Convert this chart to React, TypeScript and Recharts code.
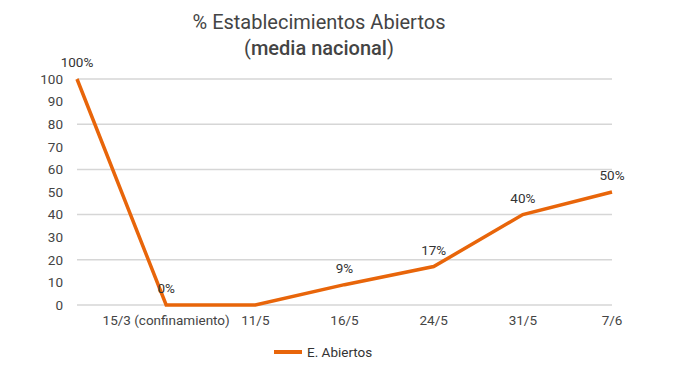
import { CartesianGrid, LabelList, Legend, Line, LineChart, XAxis, YAxis } from "recharts";

const fechas = ["", "15/3 (confinamiento)", "11/5", "16/5", "24/5", "31/5", "7/6"];
const abiertos = [100, 0, 0, 9, 17, 40, 50];
const yTicks = [0, 10, 20, 30, 40, 50, 60, 70, 80, 90, 100];
// the reference shows no label on the 11/5 point
const hiddenLabels = [2];

const data = fechas.map((fecha, i) => ({ fecha, abiertos: abiertos[i] }));

const orange = "#e8650a";
const font = "Roboto, 'Noto Sans', sans-serif";

function PointLabel(props: any) {
  const { x, y, value, index } = props;
  if (hiddenLabels.includes(index)) return null;
  return (
    <text x={x} y={y - 17} textAnchor="middle" dominantBaseline="central" fill="#333" fontSize={13.5} fontFamily={font}>
      {`${value}%`}
    </text>
  );
}

function LegendContent() {
  return (
    <div style={{ display: "flex", alignItems: "center", marginLeft: 274, paddingTop: 10, height: 23, boxSizing: "border-box", fontFamily: font }}>
      <span style={{ display: "inline-block", width: 28, height: 4, background: orange, marginRight: 5 }} />
      <span style={{ fontSize: 13.5, color: "#333", lineHeight: "14px" }}>E. Abiertos</span>
    </div>
  );
}

export default function App() {
  return (
    <div style={{ position: "absolute", left: 0, top: 0, width: 700, height: 378, background: "#fff", fontFamily: font }}>
      <div style={{ position: "absolute", left: 119, top: 9, width: 400, textAlign: "center", color: "#444", fontSize: 20, lineHeight: "26px" }}>
        % Establecimientos Abiertos
        <br />
        (<span style={{ fontWeight: 500 }}>media nacional</span>)
      </div>
      <LineChart width={700} height={378} data={data} margin={{ top: 79, right: 88, bottom: 10, left: 17 }}>
        <CartesianGrid stroke="#d6d6d6" strokeWidth={1.5} vertical={false} />
        <XAxis
          dataKey="fecha"
          height={30}
          axisLine={false}
          tickLine={false}
          tickSize={0}
          tickMargin={10}
          interval={0}
          tick={{ fill: "#444", fontSize: 13.5, fontFamily: font }}
        />
        <YAxis
          width={60}
          domain={[0, 100]}
          ticks={yTicks}
          axisLine={false}
          tickLine={false}
          tickSize={0}
          tickMargin={14}
          tick={{ fill: "#444", fontSize: 13.5, fontFamily: font }}
        />
        <Legend verticalAlign="bottom" height={33} wrapperStyle={{ left: 0, width: 700 }} content={<LegendContent />} />
        <Line
          type="linear"
          dataKey="abiertos"
          name="E. Abiertos"
          stroke={orange}
          strokeWidth={3.5}
          dot={false}
          activeDot={false}
          isAnimationActive={false}
        >
          <LabelList dataKey="abiertos" content={<PointLabel />} />
        </Line>
      </LineChart>
    </div>
  );
}
